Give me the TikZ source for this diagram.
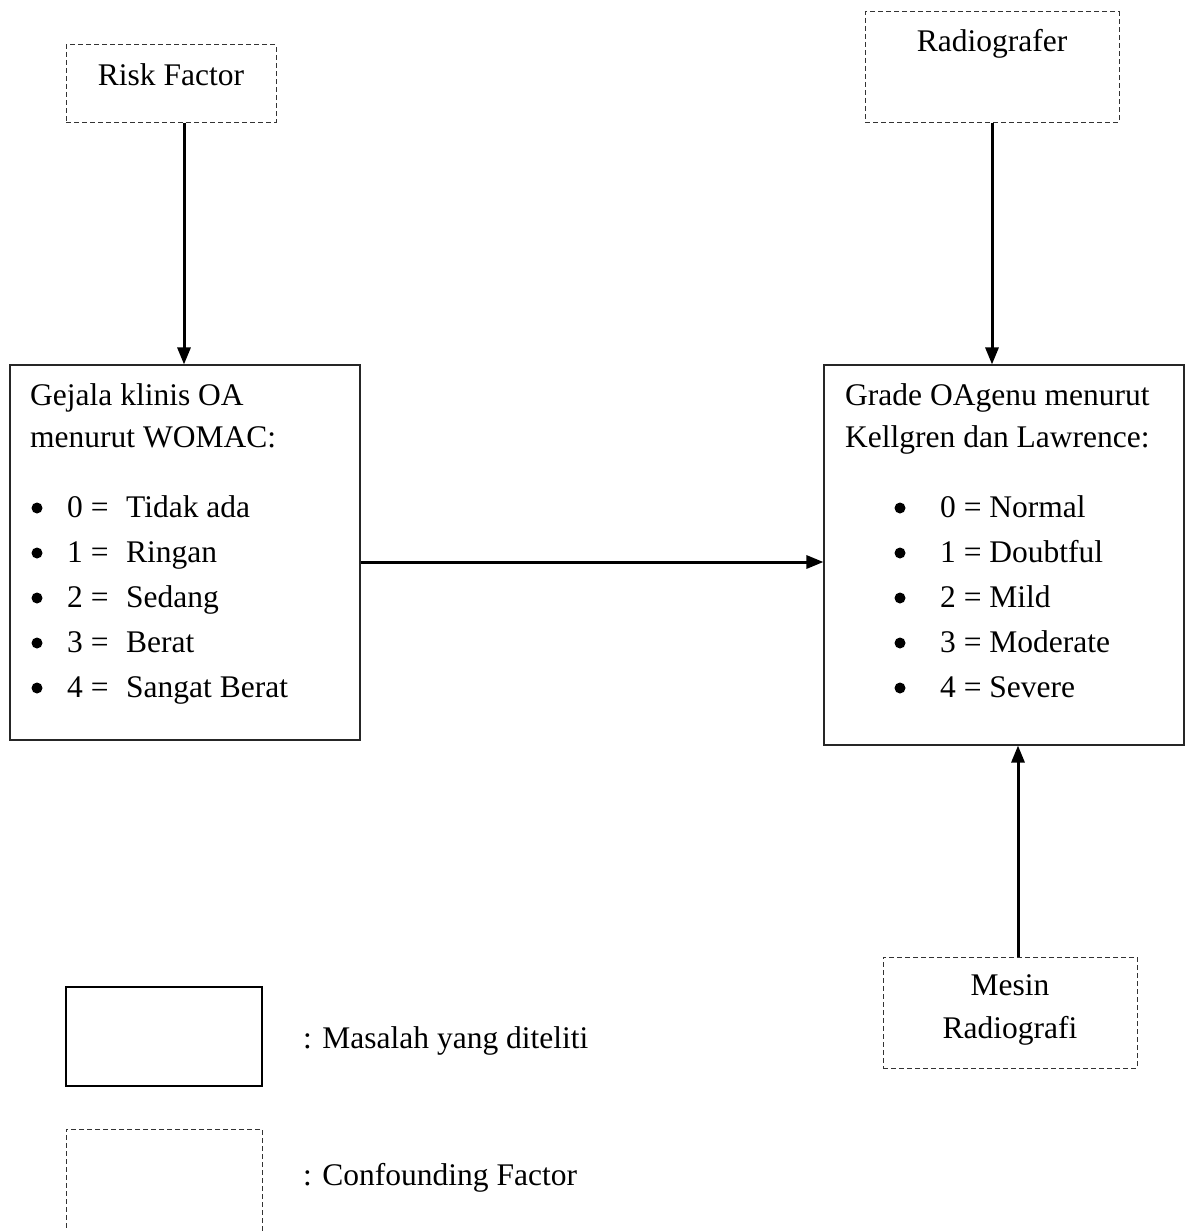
\documentclass[tikz,border=0pt]{standalone}
\usepackage{fontspec}
\setmainfont{Liberation Serif}
\usetikzlibrary{arrows.meta}

\tikzset{
  factorbox/.style={draw=black!80, line width=1pt, dash pattern=on 5pt off 3pt, inner sep=0pt},
  problembox/.style={draw=black!85, line width=1.1pt, inner sep=0pt},
  txt/.style={anchor=base west, inner sep=0pt},
  ctxt/.style={anchor=base, inner sep=0pt},
  bulletdot/.style={circle, fill=black, inner sep=0pt, minimum size=11pt},
  link/.style={-{Triangle[length=17pt,width=13pt]}, line width=3pt},
}

\begin{document}
\begin{tikzpicture}[x=1pt, y=-1pt, font=\fontsize{31.5}{45}\selectfont]
\useasboundingbox (0,0) rectangle (1188,1231);

% confounding factors
\node[factorbox, minimum width=210pt, minimum height=77pt] (rfbox) at (171,83.5) {};
\node[ctxt] (rftext) at (171,85) {Risk Factor};
\node[factorbox, minimum width=254pt, minimum height=110pt] (radbox) at (992,67) {};
\node[ctxt] (radtext) at (992,52) {Radiografer};
\node[factorbox, minimum width=254pt, minimum height=111pt] (mesin) at (1010,1012.5) {};
\node[ctxt] (mesintext1) at (1010,995) {Mesin};
\node[ctxt] (mesintext2) at (1010,1038) {Radiografi};

% variables
\node[problembox, minimum width=350pt, minimum height=375pt] (gejala) at (185,552.5) {};
\node[txt] (gejtitle1) at (30,405) {Gejala klinis OA};
\node[txt] (gejtitle2) at (30,447) {menurut WOMAC:};
\foreach \t [count=\i from 0] in {Tidak ada, Ringan, Sedang, Berat, Sangat Berat}
{
  \node[bulletdot] (gejbul\i) at (37,508+45*\i) {};
  \node[txt] (gejitem\i) at (67,517+45*\i) {\makebox[59pt][l]{\i\ =}\t};
}

\node[problembox, minimum width=360pt, minimum height=380pt] (grade) at (1004,555) {};
\node[txt] (grtitle1) at (845,405) {Grade OAgenu menurut};
\node[txt] (grtitle2) at (845,447) {Kellgren dan Lawrence:};
\foreach \t [count=\i from 0] in {Normal, Doubtful, Mild, Moderate, Severe}
{
  \node[bulletdot] (grbul\i) at (900,508+45*\i) {};
  \node[txt] (gritem\i) at (940,517+45*\i) {\i\ = \t};
}

% arrows
\draw[link] ([xshift=13pt]rfbox.south) -- ([xshift=-1pt]gejala.north);
\draw[link] (radbox.south) -- (radbox.south |- grade.north);
\draw[link] ([yshift=-9.5pt]gejala.east) -- ([yshift=-9.5pt]gejala.east -| grade.west);
\draw[link] ([xshift=8pt]mesin.north) -- ([xshift=8pt]mesin.north |- grade.south);

% legend
\node[problembox, line width=1.8pt, draw=black, minimum width=196pt, minimum height=99pt] (legprob) at (164,1036.5) {};
\node[txt] (legprobtext) at (303,1048) {: Masalah yang diteliti};
\node[factorbox, minimum width=196pt, minimum height=130pt] (legconf) at (164,1194) {};
\node[txt] (legconftext) at (303,1185) {: Confounding Factor};
\end{tikzpicture}
\end{document}
